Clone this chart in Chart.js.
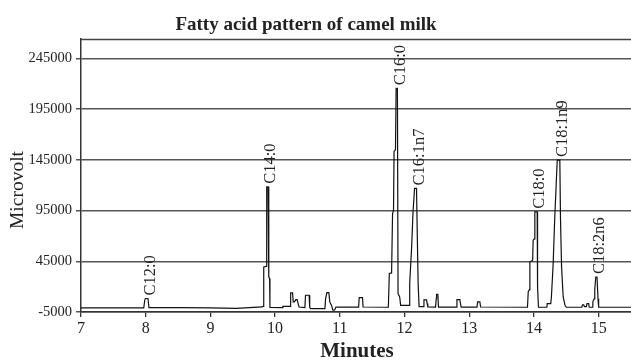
<!DOCTYPE html>
<html>
<head>
<meta charset="utf-8">
<script src="https://cdn.jsdelivr.net/npm/chart.js"></script>
<style>
  html, body { margin: 0; padding: 0; background: #fff; }
  canvas { display: block; }
</style>
</head>
<body>
<canvas id="c" width="631" height="360"></canvas>
<script>
// ---- data ----
const times = [
  7.00, 7.60, 7.97, 7.985, 7.995, 8.035, 8.05, 8.50, 9.00, 9.40, 9.60, 9.80,
  9.813, 9.822, 9.826, 9.862, 9.866, 9.874, 9.89, 9.902, 9.915, 9.92,
  10.11, 10.12, 10.23, 10.24, 10.27, 10.28, 10.30, 10.32, 10.34, 10.355, 10.37,
  10.46, 10.47, 10.525, 10.535, 10.55, 10.77, 10.78, 10.80, 10.83, 10.845, 10.87,
  10.895, 10.92, 10.94, 11.29, 11.30, 11.35, 11.36, 11.75,
  11.765, 11.80, 11.815, 11.83, 11.838, 11.86, 11.87, 11.89, 11.90, 11.925, 11.94,
  12.07, 12.08, 12.11, 12.13, 12.155, 12.185, 12.21, 12.225,
  12.29, 12.30, 12.34, 12.35, 12.36, 12.48, 12.49, 12.495, 12.515, 12.525,
  12.80, 12.81, 12.855, 12.865, 12.875, 13.12, 13.13, 13.165, 13.175,
  13.90, 13.912, 13.93, 13.937, 13.98, 13.988, 14.005, 14.014, 14.05, 14.056, 14.07,
  14.20, 14.205, 14.26, 14.27, 14.296, 14.322, 14.36, 14.40, 14.41, 14.427, 14.452, 14.48, 14.50,
  14.74, 14.75, 14.77, 14.78, 14.81, 14.82, 14.845, 14.855,
  14.90, 14.91, 14.93, 14.94, 14.955, 14.975, 14.99, 15.00, 15.50
];
const signal = [
  -900, -900, -850, 6500, 8300, 8300, -700, -750, -900, -1500, -700, 0,
  500, 3000, 39400, 40000, 108500, 118300, 118300, 29500, 28000, -400,
  -600, 600, 600, 13750, 13750, 4900, 5200, 7200, 7200, 3300, -100,
  -650, 11500, 11500, -650, -1650, -1650, 8200, 14100, 14100, 4900, 1600,
  -3300, -3000, -100, -100, 9200, 9200, -100, -300,
  32900, 33500, 92000, 95000, 152900, 155000, 215400, 215400, 13100, 9800, 1600,
  1600, 23000, 59100, 92100, 116800, 116800, 23000, 300,
  300, 7000, 7000, 3300, 0, -100, 8200, 12500, 12500, -100,
  -100, 7200, 7200, 3300, -100, -100, 4900, 4900, -100,
  -300, 15000, 17000, 44300, 46000, 65700, 67000, 93700, 93700, 20000, -300,
  -300, 3300, 3300, 9800, 41100, 88700, 144700, 144700, 88700, 39400, 9800, 1600, -300,
  -300, 2000, 2000, 300, 300, 3300, 3300, -300,
  -300, 5000, 8000, 16400, 29500, 29500, 8000, -300, -300
];
const peakNames   = ['C12:0', 'C14:0', 'C16:0', 'C16:1n7', 'C18:0', 'C18:1n9', 'C18:2n6'];
const peakTimes   = [8.015, 9.882, 11.88, 12.17, 14.032, 14.38, 14.965];
const peakHeights = [8300, 118300, 215400, 116800, 93700, 144700, 29500];
const xTicks = [7, 8, 9, 10, 11, 12, 13, 14, 15];
const yTicks = [-5000, 45000, 95000, 145000, 195000, 245000];
const titleText = 'Fatty acid pattern of camel milk';
const xTitle = 'Minutes';
const yTitle = 'Microvolt';

const SERIF = '"Liberation Serif", "Times New Roman", serif';

const textPlugin = {
  id: 'texts',
  afterDatasetsDraw(chart) {
    const { ctx, scales: { x, y } } = chart;
    ctx.save();
    ctx.fillStyle = '#222';
    ctx.font = '16.5px ' + SERIF;
    ctx.textAlign = 'left';
    ctx.textBaseline = 'alphabetic';
    peakNames.forEach((name, i) => {
      const px = x.getPixelForValue(peakTimes[i]);
      const py = y.getPixelForValue(peakHeights[i]);
      ctx.save();
      ctx.translate(px + 8, py - 3);
      ctx.rotate(-Math.PI / 2);
      ctx.fillText(name, 0, 0);
      ctx.restore();
    });
    ctx.restore();
  },
  afterDraw(chart) {
    const { ctx, chartArea } = chart;
    ctx.save();
    // top frame line
    ctx.strokeStyle = '#444';
    ctx.lineWidth = 1.5;
    ctx.beginPath();
    ctx.moveTo(chartArea.left, chartArea.top + 0.5);
    ctx.lineTo(chartArea.right, chartArea.top + 0.5);
    ctx.stroke();

    ctx.fillStyle = '#222';
    ctx.textAlign = 'center';
    ctx.textBaseline = 'alphabetic';
    ctx.font = 'bold 19px ' + SERIF;
    ctx.fillText(titleText, 306, 30);

    ctx.font = 'bold 21px ' + SERIF;
    ctx.fillText(xTitle, 357, 357);

    ctx.font = '19.5px ' + SERIF;
    ctx.translate(23, 190);
    ctx.rotate(-Math.PI / 2);
    ctx.fillText(yTitle, 0, 0);
    ctx.restore();
  }
};

new Chart(document.getElementById('c'), {
  type: 'line',
  data: {
    datasets: [{
      data: times.map((t, i) => ({ x: t, y: signal[i] })),
      borderColor: '#111',
      borderWidth: 1.2,
      pointRadius: 0,
      tension: 0,
      fill: false
    }]
  },
  options: {
    responsive: false,
    animation: false,
    devicePixelRatio: 1,
    layout: { padding: { top: 39, right: 0, left: 0, bottom: 0 } },
    plugins: {
      legend: { display: false },
      tooltip: { enabled: false },
      title: { display: false }
    },
    scales: {
      x: {
        type: 'linear',
        min: 7,
        max: 15.5,
        afterBuildTicks: a => { a.ticks = xTicks.map(v => ({ value: v })); },
        afterFit: a => { a.height = 48; },
        grid: { drawOnChartArea: false, drawTicks: true, tickLength: 5, color: '#333', lineWidth: 1.3 },
        border: { display: true, color: '#333', width: 1.5 },
        ticks: {
          color: '#222',
          font: { family: SERIF, size: 16 },
          padding: 2,
          autoSkip: false,
          maxRotation: 0,
          callback: v => String(v)
        }
      },
      y: {
        min: -5000,
        max: 264000,
        afterBuildTicks: a => { a.ticks = yTicks.map(v => ({ value: v })); },
        afterFit: a => { a.width = 81; },
        grid: { color: '#555', lineWidth: 1.5, tickLength: 5 },
        border: { display: true, color: '#333', width: 1.5 },
        ticks: {
          color: '#222',
          font: { family: SERIF, size: 14.5 },
          padding: 4,
          autoSkip: false,
          callback: v => String(v)
        }
      }
    }
  },
  plugins: [textPlugin]
});
</script>
</body>
</html>
